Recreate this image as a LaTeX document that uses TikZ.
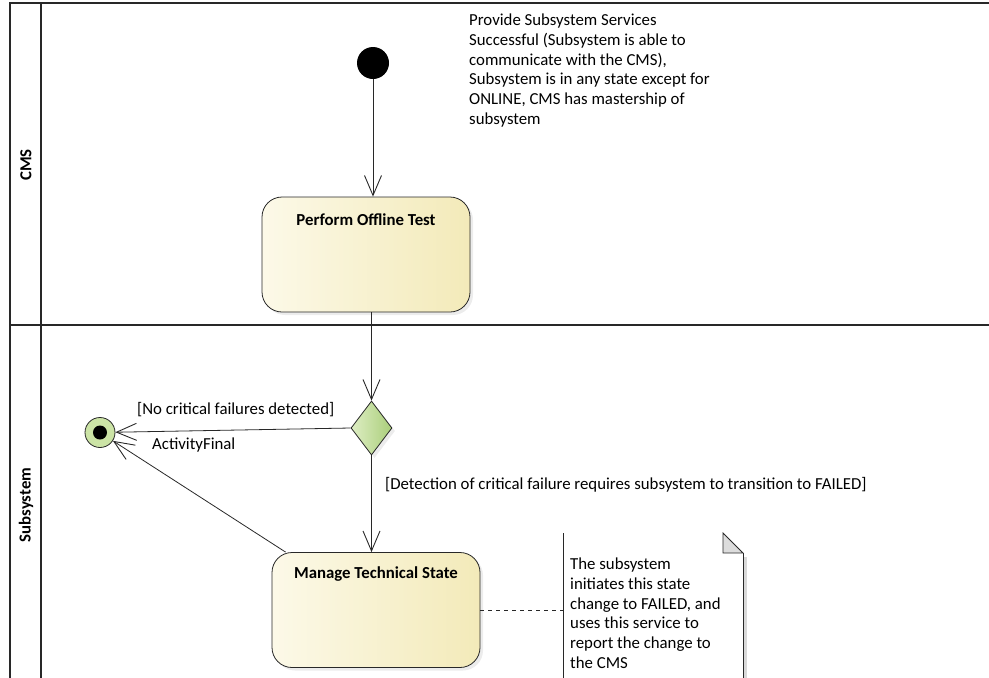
\documentclass[tikz,border=0pt]{standalone}
\usepackage{fontspec}
\setmainfont{Carlito}
\usetikzlibrary{positioning, shapes.geometric, arrows.meta, shadows}

\definecolor{linegray}{RGB}{40,40,40}
\definecolor{actleft}{RGB}{252,249,232}
\definecolor{actright}{RGB}{243,234,185}
\definecolor{decleft}{RGB}{222,238,196}
\definecolor{decright}{RGB}{170,206,122}
\definecolor{finalgreen}{RGB}{204,228,166}
\definecolor{foldgray}{RGB}{220,220,220}

\newcommand{\umlfont}{\fontsize{16.8}{19.7}\selectfont}

\tikzset{
  lane/.style={line width=1.6pt, draw=linegray},
  action/.style={rectangle, draw=linegray, line width=0.8pt, rounded corners=20pt,
    left color=actleft, right color=actright, minimum width=208pt, minimum height=115pt,
    inner sep=0pt, drop shadow={shadow xshift=3pt, shadow yshift=-3pt, fill=black!15}},
  acttitle/.style={font=\umlfont\bfseries, inner sep=0pt},
  decision/.style={diamond, draw=linegray, line width=0.8pt, aspect=0.77, inner sep=0pt,
    minimum width=41pt, minimum height=54pt, left color=decleft, right color=decright,
    drop shadow={shadow xshift=3pt, shadow yshift=-3pt, fill=black!15}},
  initial/.style={circle, fill=black, minimum size=32pt, inner sep=0pt},
  final/.style={circle, draw=linegray, line width=0.8pt, fill=finalgreen, minimum size=30pt, inner sep=0pt},
  flow/.style={draw=linegray, line width=0.8pt, -{Straight Barb[length=20pt, width=17pt, line width=0.9pt]}},
  guard/.style={inner sep=0pt, anchor=west},
  plain/.style={inner sep=0pt, align=left, anchor=north west},
  lanelabel/.style={font=\umlfont\bfseries, inner sep=0pt, rotate=90},
}

\begin{document}
\begin{tikzpicture}[x=1pt, y=-1pt, font=\umlfont]
\useasboundingbox (0,0) rectangle (989,678);

% swimlanes
\draw [lane] (10,700) -- (10,3) -- (995,3);
\draw [lane] (41,3) -- (41,700);
\draw [lane] (10,325) -- (995,325);
\node [lanelabel] (cmslabel) at (26,165) {CMS};
\node [lanelabel] (subsyslabel) at (26,505) {Subsystem};

% nodes
\node [initial] (init) at (373,63) {};
\node [action] (test) at (366,254.5) {};
\node [acttitle] (testtitle) at ([yshift=-23pt]test.north) {Perform Offline Test};
\node [decision] (dec) at (371.5,428) {};
\node [final] (final) at (100,432.5) {};
\fill (final) circle (7pt);
\node [action] (mts) at (376,610) {};
\node [acttitle] (mtstitle) at ([yshift=-22pt]mts.north) {Manage Technical State};

% precondition
\node [plain] (precond) at (469,14) {Provide Subsystem Services\\Successful (Subsystem is able to\\communicate with the CMS),\\Subsystem is in any state except for\\ONLINE, CMS has mastership of\\subsystem};

% note
\fill [black!15] (743,557) rectangle (747,700);
\draw [linegray, line width=0.8pt] (563,533) -- (563,700);
\draw [linegray, line width=0.8pt] (743,553) -- (743,700);
\filldraw [linegray, fill=foldgray, line width=0.8pt] (723,533) -- (723,553) -- (743,553) -- cycle;
\node [plain] (notetext) at (570,558) {The subsystem\\initiates this state\\change to FAILED, and\\uses this service to\\report the change to\\the CMS};
\coordinate (noteL) at (563,607);

% flows
\draw [flow] (init.south) -- (init.south |- test.north);
\draw [flow] (test.south -| dec.north) -- (dec.north);
\draw [flow] (dec.west) -- (final);
\draw [flow] (dec.south) -- (dec.south |- mts.north);
\draw [flow] ([xshift=14pt]mts.north west) -- (final);
\draw [dashed, linegray, line width=0.8pt, dash pattern=on 4pt off 4pt] (mts.east) -- (mts.east -| noteL);

% labels
\node [guard] (noguard) at (137,410) {[No critical failures detected]};
\node [guard] (finallabel) at (152,445) {ActivityFinal};
\node [guard] (failguard) at (385,485) {[Detection of critical failure requires subsystem to transition to FAILED]};
\end{tikzpicture}
\end{document}
